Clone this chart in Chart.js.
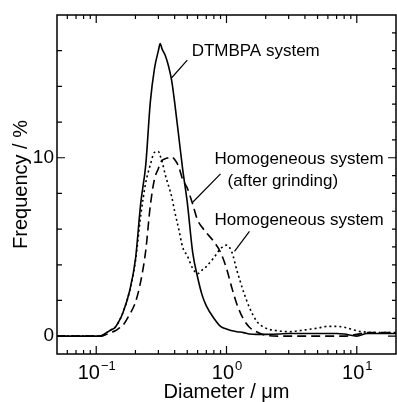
<!DOCTYPE html>
<html>
<head>
<meta charset="utf-8">
<script src="https://cdn.jsdelivr.net/npm/chart.js@4.4.1/dist/chart.umd.min.js"></script>
<style>
  html, body { margin: 0; padding: 0; background: #fff; }
  #wrap { width: 397px; height: 402px; }
</style>
</head>
<body>
<div id="wrap"><canvas id="chartPsd"></canvas></div>
<script>
// Particle size distributions
const diameters = [0.05, 0.1, 0.11, 0.12, 0.13, 0.14, 0.15, 0.16, 0.18, 0.2, 0.22, 0.24, 0.26, 0.28, 0.3, 0.31,
    0.32, 0.34, 0.36, 0.38, 0.4, 0.43, 0.46, 0.5, 0.55, 0.6, 0.65, 0.7, 0.8, 0.9, 1.0, 1.1, 1.2, 1.35, 1.5, 1.7,
    2, 2.5, 3, 4, 5, 6, 7, 8, 10, 12, 15, 20];
const freqDtmbpa = [0, 0, 0.03, 0.2, 0.35, 0.5, 0.85, 1.3, 2.5, 4.3, 7.5, 9.6, 13.1, 15.0, 16.0, 16.4,
    16.1, 15.7, 15.1, 14.3, 13.1, 11.2, 9.4, 7.5, 4.7, 3.3, 2.3, 1.7, 1.0, 0.55, 0.4, 0.3, 0.25, 0.2, 0.12, 0.1,
    0.1, 0.12, 0.15, 0.15, 0.15, 0.15, 0.15, 0.12, 0.0, 0.15, 0.15, 0.15];
const freqGround = [0, 0, 0, 0.1, 0.2, 0.3, 0.45, 0.6, 1.2, 1.9, 3.1, 4.8, 7.3, 8.8, 9.4, 9.7,
    9.85, 9.95, 10.0, 10.05, 9.9, 9.5, 8.8, 8.3, 7.4, 6.5, 6.1, 5.8, 5.3, 4.7, 3.8, 2.7, 1.8, 0.95, 0.5, 0.25,
    0.05, 0, 0, 0, 0, 0, 0, 0, 0.1, 0.2, 0.2, 0.2];
const freqHomog = [0, 0, 0.02, 0.2, 0.35, 0.5, 0.85, 1.3, 2.5, 4.2, 6.8, 8.6, 9.6, 10.3, 10.35, 10.1,
    9.8, 9.0, 8.4, 7.8, 7.0, 6.0, 5.0, 4.5, 3.8, 3.5, 3.7, 3.9, 4.4, 4.9, 5.1, 4.7, 3.7, 2.5, 1.6, 0.85,
    0.45, 0.3, 0.25, 0.35, 0.45, 0.55, 0.55, 0.5, 0.3, 0.22, 0.2, 0.2];

// Axis ticks
const xMajorTicks = [0.1, 1, 10];
const xExponents = ['\u22121', '0', '1'];
const xMinorTicks = [0.06, 0.07, 0.08, 0.09, 0.2, 0.3, 0.4, 0.5, 0.6, 0.7, 0.8, 0.9,
    2, 3, 4, 5, 6, 7, 8, 9];
const yLabelTicks = [0, 10];
const yLeftTicks = [0, 2, 4, 6, 8, 10, 12, 14, 16];
const yRightTicks = [0, 1, 2, 3, 4, 5, 6, 7, 8, 9, 10, 11, 12, 13, 14, 15, 16, 17];

// Curve labels, anchored in data space (diameter, frequency)
const curveLabels = [
    { text: 'DTMBPA system', d: 0.54, f: 15.95 },
    { text: 'Homogeneous system', d: 0.81, f: 9.9 },
    { text: '(after grinding)', d: 1.02, f: 8.66 },
    { text: 'Homogeneous system', d: 0.81, f: 6.48 }
];
const leaderLines = [
    { d1: 0.50, f1: 15.47, d2: 0.378, f2: 14.47 },
    { d1: 0.90, f1: 9.1, d2: 0.548, f2: 7.49 },
    { d1: 1.50, f1: 5.87, d2: 1.152, f2: 4.75 }
];

const FONT = '"Liberation Sans", Arial, Helvetica, sans-serif';

function toPoints(values) {
    return diameters.map((d, i) => ({ x: d, y: values[i] }));
}

// =========================================
// Frame, inward ticks, superscript labels, curve labels
// =========================================
const decorPlugin = {
    id: 'decor',
    afterDraw(chart) {
        const { ctx, chartArea: area } = chart;
        const xs = chart.scales.x;
        const ys = chart.scales.y;
        ctx.save();
        ctx.strokeStyle = '#000';
        ctx.lineWidth = 1.5;
        ctx.strokeRect(area.left, area.top, area.right - area.left, area.bottom - area.top);

        ctx.lineWidth = 1.2;
        ctx.beginPath();
        // bottom + top ticks
        const xTick = (v, len) => {
            const px = xs.getPixelForValue(v);
            ctx.moveTo(px, area.bottom); ctx.lineTo(px, area.bottom - len);
            ctx.moveTo(px, area.top); ctx.lineTo(px, area.top + len);
        };
        xMajorTicks.forEach(v => xTick(v, 8));
        xMinorTicks.forEach(v => xTick(v, 4));
        // left ticks
        yLeftTicks.forEach(v => {
            const py = ys.getPixelForValue(v);
            const len = yLabelTicks.includes(v) ? 8 : 5;
            ctx.moveTo(area.left, py); ctx.lineTo(area.left + len, py);
        });
        // right ticks
        yRightTicks.forEach(v => {
            const py = ys.getPixelForValue(v);
            const len = yLabelTicks.includes(v) ? 8 : 4;
            ctx.moveTo(area.right, py); ctx.lineTo(area.right - len, py);
        });
        // leader lines
        leaderLines.forEach(l => {
            ctx.moveTo(xs.getPixelForValue(l.d1), ys.getPixelForValue(l.f1));
            ctx.lineTo(xs.getPixelForValue(l.d2), ys.getPixelForValue(l.f2));
        });
        ctx.stroke();

        // x tick labels with superscript exponent
        ctx.fillStyle = '#000';
        ctx.textBaseline = 'alphabetic';
        ctx.textAlign = 'left';
        xMajorTicks.forEach((v, i) => {
            const px = xs.getPixelForValue(v);
            ctx.font = '20px ' + FONT;
            const wBase = ctx.measureText('10').width;
            ctx.font = '13px ' + FONT;
            const wExp = ctx.measureText(xExponents[i]).width;
            const x0 = px - (wBase + wExp) / 2;
            const base = area.bottom + 25;
            ctx.font = '20px ' + FONT;
            ctx.fillText('10', x0, base);
            ctx.font = '13px ' + FONT;
            ctx.fillText(xExponents[i], x0 + wBase + 1, base - 9);
        });

        // curve labels
        ctx.font = '17px ' + FONT;
        ctx.textBaseline = 'middle';
        curveLabels.forEach(l => {
            ctx.fillText(l.text, xs.getPixelForValue(l.d), ys.getPixelForValue(l.f));
        });
        ctx.restore();
    }
};

const lineStyle = {
    borderColor: '#000',
    borderWidth: 1.6,
    pointRadius: 0,
    fill: false,
    showLine: true,
    cubicInterpolationMode: 'monotone'
};

const chartPsd = new Chart(document.getElementById('chartPsd').getContext('2d'), {
    type: 'scatter',
    data: {
        datasets: [
            Object.assign({ label: 'DTMBPA system', data: toPoints(freqDtmbpa) }, lineStyle),
            Object.assign({ label: 'Homogeneous system (after grinding)', data: toPoints(freqGround), borderDash: [9, 5] }, lineStyle),
            Object.assign({ label: 'Homogeneous system', data: toPoints(freqHomog), borderDash: [2, 3] }, lineStyle)
        ]
    },
    options: {
        responsive: true,
        maintainAspectRatio: false,
        animation: false,
        layout: { padding: { left: 0, top: 15, right: 1, bottom: 0 } },
        plugins: {
            legend: { display: false },
            tooltip: { enabled: false }
        },
        scales: {
            x: {
                type: 'logarithmic',
                min: 0.05,
                max: 20,
                grid: { display: false, drawTicks: false },
                border: { display: false },
                ticks: { display: false },
                title: {
                    display: true,
                    text: 'Diameter / \u03bcm',
                    color: '#000',
                    font: { family: FONT, size: 20, lineHeight: 1 },
                    padding: { top: 0, bottom: 0 }
                },
                afterFit(scale) { scale.height = 48; }
            },
            y: {
                min: -1,
                max: 18,
                grid: { display: false, drawTicks: false },
                border: { display: false },
                afterBuildTicks(scale) { scale.ticks = yLabelTicks.map(v => ({ value: v })); },
                ticks: {
                    color: '#000',
                    padding: 3,
                    font: { family: FONT, size: 19 }
                },
                title: {
                    display: true,
                    text: 'Frequency / %',
                    color: '#000',
                    font: { family: FONT, size: 20, lineHeight: 1 },
                    padding: { top: 11, bottom: 0 }
                },
                afterFit(scale) { scale.width = 57; }
            }
        }
    },
    plugins: [decorPlugin]
});
</script>
</body>
</html>
